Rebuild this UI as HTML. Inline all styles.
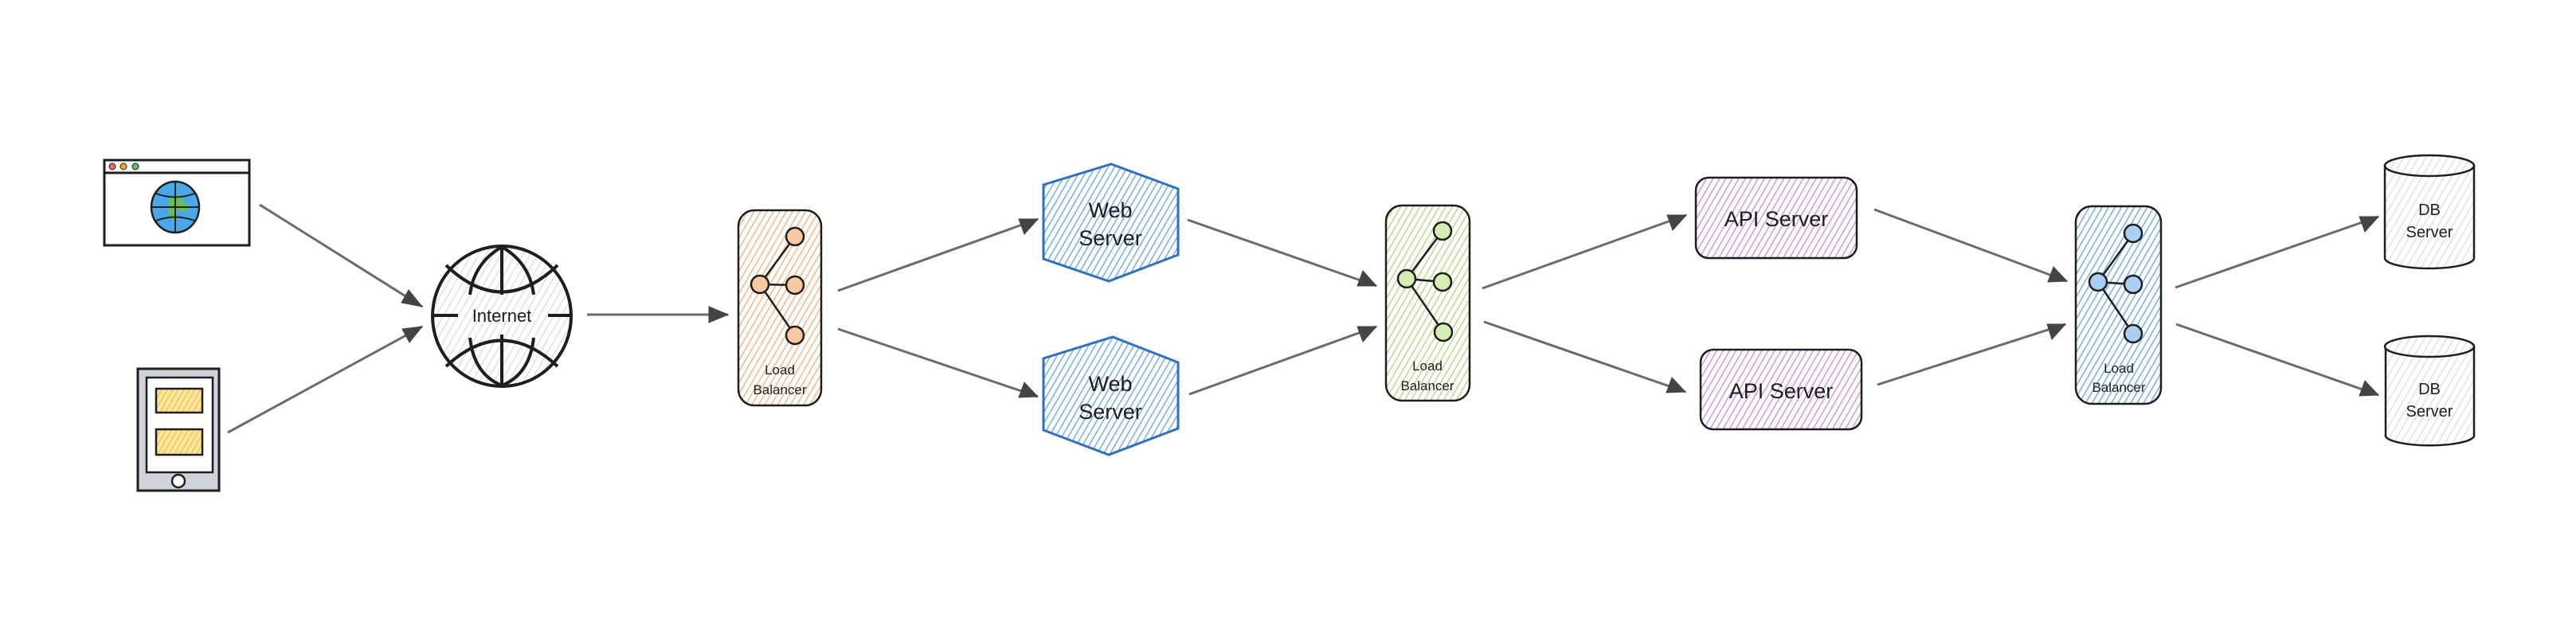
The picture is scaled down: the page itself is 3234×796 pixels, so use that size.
<!DOCTYPE html>
<html><head><meta charset="utf-8"><style>
html,body{margin:0;padding:0;background:#fff;}
svg{display:block;}
text{font-family:"Liberation Sans",sans-serif;fill:#1e1e1e;text-anchor:middle;}
</style></head><body>
<svg width="3234" height="796" viewBox="0 0 3234 796" xmlns="http://www.w3.org/2000/svg">
<defs>
<pattern id="hOr" width="7" height="7" patternUnits="userSpaceOnUse" patternTransform="rotate(30)"><rect width="7" height="7" fill="#fff"/><line x1="0" y1="0" x2="0" y2="7" stroke="#f4a86a" stroke-width="2.4"/></pattern>
<pattern id="hBl" width="7" height="7" patternUnits="userSpaceOnUse" patternTransform="rotate(30)"><rect width="7" height="7" fill="#fff"/><line x1="0" y1="0" x2="0" y2="7" stroke="#5fa3ea" stroke-width="2.6"/></pattern>
<pattern id="hGr" width="7" height="7" patternUnits="userSpaceOnUse" patternTransform="rotate(30)"><rect width="7" height="7" fill="#fff"/><line x1="0" y1="0" x2="0" y2="7" stroke="#a9d36f" stroke-width="2.4"/></pattern>
<pattern id="hPu" width="7" height="7" patternUnits="userSpaceOnUse" patternTransform="rotate(30)"><rect width="7" height="7" fill="#fff"/><line x1="0" y1="0" x2="0" y2="7" stroke="#c77fe6" stroke-width="2.4"/></pattern>
<pattern id="hGy" width="8" height="8" patternUnits="userSpaceOnUse" patternTransform="rotate(30)"><rect width="8" height="8" fill="#fff"/><line x1="0" y1="0" x2="0" y2="8" stroke="#c9ced3" stroke-width="1.8"/></pattern>
<pattern id="hYe" width="6" height="6" patternUnits="userSpaceOnUse" patternTransform="rotate(30)"><rect width="6" height="6" fill="#ffe7a0"/><line x1="0" y1="0" x2="0" y2="6" stroke="#f0b429" stroke-width="2"/></pattern>
</defs>
<g stroke="#6b6b6b" stroke-width="3" fill="none">
<line x1="326" y1="257" x2="530" y2="385"/>
<line x1="286" y1="543" x2="530" y2="410"/>
<line x1="737" y1="395" x2="914" y2="395"/>
<line x1="1052" y1="365" x2="1303" y2="275"/>
<line x1="1052" y1="413" x2="1303" y2="498"/>
<line x1="1491" y1="276" x2="1728" y2="359"/>
<line x1="1493" y1="495" x2="1728" y2="410"/>
<line x1="1861" y1="362" x2="2117" y2="270"/>
<line x1="1863" y1="404" x2="2116" y2="492"/>
<line x1="2353" y1="263" x2="2595" y2="353"/>
<line x1="2357" y1="483" x2="2593" y2="407"/>
<line x1="2731" y1="361" x2="2986" y2="272"/>
<line x1="2732" y1="407" x2="2986" y2="496"/>
</g>
<g fill="#444" stroke="#444" stroke-width="1">
<polygon points="530,385 504,380 513,364"/>
<polygon points="530,410 514,430 505,413"/>
<polygon points="914,395 890,385 890,405"/>
<polygon points="1303,275 1286,294 1279,275"/>
<polygon points="1303,498 1279,499 1286,480"/>
<polygon points="1728,359 1704,359 1711,340"/>
<polygon points="1728,410 1711,429 1704,410"/>
<polygon points="2117,270 2100,289 2093,270"/>
<polygon points="2116,492 2092,493 2099,474"/>
<polygon points="2595,353 2571,354 2578,335"/>
<polygon points="2593,407 2576,426 2570,407"/>
<polygon points="2986,272 2969,291 2962,272"/>
<polygon points="2986,496 2962,497 2969,478"/>
</g>

<rect x="131" y="201" width="182" height="107" fill="#fff" stroke="#1e1e1e" stroke-width="3"/>
<line x1="131" y1="217" x2="313" y2="217" stroke="#1e1e1e" stroke-width="3"/>
<circle cx="141" cy="209" r="4" fill="#f26b6b" stroke="#1e1e1e" stroke-width="1"/>
<circle cx="155" cy="209" r="4" fill="#f4a62a" stroke="#1e1e1e" stroke-width="1"/>
<circle cx="170" cy="209" r="4" fill="#5bc35b" stroke="#1e1e1e" stroke-width="1"/>
<ellipse cx="220" cy="260" rx="30" ry="32" fill="#4aa8ea" stroke="#1e1e1e" stroke-width="2.5"/>
<path d="M212,250 l12,-6 l6,10 l8,4 l-6,8 l-10,-2 l-2,14 l-8,-6 z" fill="#6cc04a"/>
<g stroke="#1e1e1e" stroke-width="2" fill="none"><line x1="190" y1="260" x2="250" y2="260"/><line x1="220" y1="228" x2="220" y2="292"/><path d="M196,243 Q220,252 244,243"/><path d="M196,277 Q220,268 244,277"/></g>

<rect x="173" y="463" width="102" height="153" fill="#ced4da" stroke="#1e1e1e" stroke-width="3"/>
<rect x="184" y="474" width="83" height="119" fill="#fff" stroke="#1e1e1e" stroke-width="2.5"/>
<rect x="196" y="488" width="58" height="30" fill="url(#hYe)" stroke="#1e1e1e" stroke-width="2.5"/>
<rect x="196" y="539" width="58" height="32" fill="url(#hYe)" stroke="#1e1e1e" stroke-width="2.5"/>
<ellipse cx="224" cy="604" rx="8" ry="8" fill="#fff" stroke="#1e1e1e" stroke-width="2.5"/>

<ellipse cx="630" cy="397" rx="87" ry="88" fill="url(#hGy)" stroke="#1e1e1e" stroke-width="4"/>
<g stroke="#1e1e1e" stroke-width="4" fill="none">
<path d="M560,333 Q630,400 700,333"/><path d="M560,460 Q630,395 700,460"/>
<line x1="630" y1="310" x2="630" y2="370"/><line x1="630" y1="420" x2="630" y2="484"/>
<path d="M630,310 Q595,330 590,370"/><path d="M630,310 Q665,330 670,370"/>
<path d="M590,424 Q595,470 630,484"/><path d="M670,424 Q665,470 630,484"/>
<line x1="543" y1="396" x2="575" y2="396"/><line x1="688" y1="396" x2="717" y2="396"/>
</g>
<text x="630" y="404" font-size="22">Internet</text>

<rect x="927" y="264" width="104" height="245" rx="20" fill="url(#hOr)" stroke="#1e1e1e" stroke-width="2.5"/>
<g stroke="#1e1e1e" stroke-width="2.5" fill="#f8c9a0"><line x1="998" y1="297" x2="954" y2="357"/><line x1="954" y1="357" x2="998" y2="358"/><line x1="954" y1="357" x2="998" y2="421"/>
<circle cx="998" cy="297" r="11"/><circle cx="954" cy="357" r="11"/><circle cx="998" cy="358" r="11"/><circle cx="998" cy="421" r="11"/></g>
<text x="979" y="470" font-size="17">Load</text><text x="979" y="495" font-size="17">Balancer</text>

<polygon points="1395,206 1479,237 1479,320 1392,353 1310,325 1310,232" fill="url(#hBl)" stroke="#2f6fc4" stroke-width="3"/>
<text x="1394" y="273" font-size="27">Web</text><text x="1394" y="308" font-size="27">Server</text>
<polygon points="1397,423 1479,455 1479,538 1392,571 1310,540 1310,450" fill="url(#hBl)" stroke="#2f6fc4" stroke-width="3"/>
<text x="1394" y="491" font-size="27">Web</text><text x="1394" y="526" font-size="27">Server</text>

<rect x="1740" y="258" width="105" height="245" rx="20" fill="url(#hGr)" stroke="#1e1e1e" stroke-width="2.5"/>
<g stroke="#1e1e1e" stroke-width="2.5" fill="#d6ecb5"><line x1="1811" y1="290" x2="1766" y2="350"/><line x1="1766" y1="350" x2="1811" y2="354"/><line x1="1766" y1="350" x2="1812" y2="417"/>
<circle cx="1811" cy="290" r="11"/><circle cx="1766" cy="350" r="11"/><circle cx="1811" cy="354" r="11"/><circle cx="1812" cy="417" r="11"/></g>
<text x="1792" y="465" font-size="17">Load</text><text x="1792" y="490" font-size="17">Balancer</text>

<rect x="2129" y="223" width="202" height="101" rx="16" fill="url(#hPu)" stroke="#1e1e1e" stroke-width="2.5"/>
<text x="2230" y="284" font-size="27">API Server</text>
<rect x="2135" y="439" width="202" height="100" rx="16" fill="url(#hPu)" stroke="#1e1e1e" stroke-width="2.5"/>
<text x="2236" y="500" font-size="27">API Server</text>

<rect x="2606" y="259" width="107" height="248" rx="20" fill="url(#hBl)" stroke="#1e1e1e" stroke-width="2.5"/>
<g stroke="#1e1e1e" stroke-width="2.5" fill="#a9cff3"><line x1="2678" y1="293" x2="2634" y2="354"/><line x1="2634" y1="354" x2="2678" y2="357"/><line x1="2634" y1="354" x2="2678" y2="419"/>
<circle cx="2678" cy="293" r="11"/><circle cx="2634" cy="354" r="11"/><circle cx="2678" cy="357" r="11"/><circle cx="2678" cy="419" r="11"/></g>
<text x="2660" y="468" font-size="17">Load</text><text x="2660" y="492" font-size="17">Balancer</text>

<g stroke="#1e1e1e" stroke-width="2.5">
<path d="M2994,208 L2994,324 A56,13 0 0 0 3106,324 L3106,208 Z" fill="url(#hGy)"/>
<ellipse cx="3050" cy="208" rx="56" ry="13" fill="url(#hGy)"/>
<path d="M2995,435 L2995,548 A56,13 0 0 0 3106,548 L3106,435 Z" fill="url(#hGy)"/>
<ellipse cx="3050" cy="435" rx="56" ry="13" fill="url(#hGy)"/>
</g>
<text x="3050" y="270" font-size="20">DB</text><text x="3050" y="298" font-size="20">Server</text>
<text x="3050" y="495" font-size="20">DB</text><text x="3050" y="523" font-size="20">Server</text>
</svg>
</body></html>
